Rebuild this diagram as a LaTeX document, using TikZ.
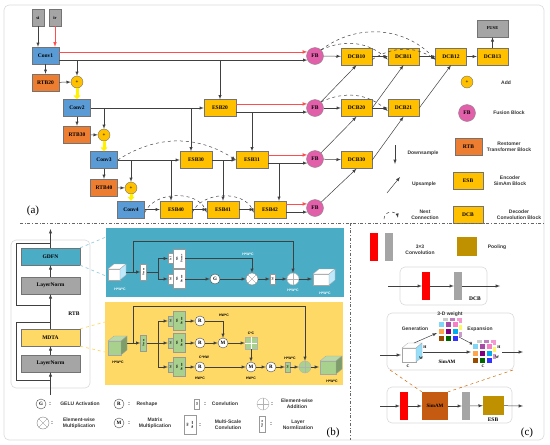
\documentclass[tikz,border=0pt]{standalone}
\usepackage{fontspec}
\setmainfont{Liberation Serif}
\setsansfont{Liberation Sans}
\usepackage{graphicx}
\usepackage{tikz}
\usetikzlibrary{arrows.meta,calc,positioning}
\usepackage{xcolor}
\definecolor{convblue}{HTML}{5B9BD5}
\definecolor{rtborange}{HTML}{ED7D31}
\definecolor{esbgold}{HTML}{FFC000}
\definecolor{fbpink}{HTML}{E25FAA}
\definecolor{boxgray}{HTML}{A5A5A5}
\definecolor{gdfnteal}{HTML}{4BACC6}
\definecolor{mdtayel}{HTML}{FFD966}
\definecolor{greenbox}{HTML}{A9D18E}
\definecolor{poolgold}{HTML}{BF9000}
\definecolor{simambrown}{HTML}{C55A11}

% cubo: x, y (in basso a sinistra), larghezza, altezza, fronte, lato
\newcommand{\cubo}[6]{%
  \filldraw[draw=black!35, line width=0.3pt, fill=#5] (#1,#2) rectangle ++(#3,-#4);
  \filldraw[draw=black!35, line width=0.3pt, fill=#5!80!white] (#1,#2-#4) -- ++(6,-5) -- ++(#3,0) -- ++(-6,5) -- cycle;
  \filldraw[draw=black!35, line width=0.3pt, fill=#6] (#1+#3,#2) -- ++(6,-5) -- ++(0,-#4) -- ++(-6,5) -- cycle;}

% pesi 3-D: griglia di cubetti colorati, (x,y) in alto a sinistra
\newcommand{\pesi}[2]{%
  \foreach \i/\j/\c in {0/0/gray!40,1/0/violet!50,2/0/magenta!40,0/1/cyan!40,1/1/gray!50,2/1/yellow!60,0/2/blue!40,1/2/cyan!60,2/2/violet!40}
    \filldraw[draw=white, line width=0.2pt, fill=\c] (#1+\i*7+4,#2+\j*7-4) rectangle ++(6,6);
  \foreach \i/\j/\c in {0/0/cyan!50,1/0/violet!70,2/0/magenta!50,0/1/orange!70,1/1/violet,2/1/cyan,0/2/orange!60!black,1/2/green!40!black,2/2/blue!80}
    \filldraw[draw=white, line width=0.2pt, fill=\c] (#1+\i*7,#2+\j*7) rectangle ++(6,6);}

\begin{document}
\begin{tikzpicture}[x=1pt, y=-1pt,
  blk/.style={draw=black!55, line width=0.4pt, inner sep=0pt, minimum height=17pt, font=\fontsize{5.5}{6}\selectfont\bfseries},
  conv/.style={blk, fill=convblue, minimum width=27pt},
  rtb/.style={blk, fill=rtborange, minimum width=27pt},
  esb/.style={blk, fill=esbgold, minimum width=32pt},
  dcb/.style={blk, fill=esbgold, minimum width=31pt},
  ingresso/.style={blk, fill=boxgray, minimum width=12pt, font=\fontsize{4.5}{5}\selectfont\bfseries},
  fb/.style={circle, draw=black!45, fill=fbpink, minimum size=17pt, inner sep=0pt, font=\fontsize{5.5}{6}\selectfont\bfseries},
  somma/.style={circle, draw=black!55, fill=esbgold, minimum size=12pt, inner sep=0pt, font=\fontsize{5}{5}\selectfont\bfseries},
  freccia/.style={-latex, draw=black!75, line width=0.5pt},
  rossa/.style={-latex, draw=red!70, line width=0.6pt},
  nest/.style={-latex, dashed, draw=black!75, line width=0.5pt},
  giallo/.style={-{Triangle[width=7pt,length=4pt]}, draw=yellow, line width=3pt},
  leg/.style={font=\sffamily\fontsize{5}{6}\selectfont\bfseries, text=black!80, align=center},
  rtbnodo/.style={blk, minimum width=59pt},
  pannello/.style={draw=black!15, line width=0.6pt, rounded corners=5pt},
  piccolo/.style={draw=black!40, line width=0.3pt, inner sep=0pt, font=\fontsize{2.5}{2.8}\selectfont\bfseries},
  uno/.style={piccolo, fill=#1, minimum width=5pt, minimum height=10pt},
  ms/.style={piccolo, fill=#1, minimum width=12pt, minimum height=19pt},
  norma/.style={piccolo, fill=#1, minimum width=6pt, minimum height=16pt},
  op/.style={circle, draw=black!70, fill=white, minimum size=10pt, inner sep=0pt, font=\fontsize{5}{5}\selectfont\bfseries},
  molt/.style={circle, draw=black!50, fill=white, minimum size=12pt, inner sep=0pt,
    path picture={\draw[black!50, line width=0.3pt] (path picture bounding box.north west) -- (path picture bounding box.south east) (path picture bounding box.south west) -- (path picture bounding box.north east);}},
  piu/.style={circle, draw=black!30, fill=#1, minimum size=12pt, inner sep=0pt,
    path picture={\draw[black!30, line width=0.3pt] (path picture bounding box.north) -- (path picture bounding box.south) (path picture bounding box.west) -- (path picture bounding box.east);}},
  dim/.style={font=\sffamily\fontsize{3.5}{4}\selectfont\bfseries},
  duepunti/.style={font=\sffamily\fontsize{6}{6}\selectfont\bfseries, text=black!80},
  barra/.style={minimum width=8pt, minimum height=28pt, inner sep=0pt, fill=#1}]

\useasboundingbox (0,0) rectangle (550,445);
\draw[pannello] (4,5) rectangle (544,440);

% Parte (a): rete
\node[ingresso] (si) at (38,17.5) {si};
\node[ingresso] (ir) at (55,17.5) {ir};
\node[conv] (conv1) at (45.5,55.5) {Conv1};
\node[rtb] (rtb20) at (45.5,82.5) {RTB20};
\node[somma] (add1) at (77,82) {+};
\node[conv] (conv2) at (77,108) {Conv2};
\node[rtb] (rtb30) at (77,134.5) {RTB30};
\node[somma] (add2) at (104,135) {+};
\node[conv] (conv3) at (104,160) {Conv3};
\node[rtb] (rtb40) at (104,187.5) {RTB40};
\node[somma] (add3) at (131,188) {+};
\node[conv] (conv4) at (131,209.5) {Conv4};
\node[esb] (esb20) at (220,108) {ESB20};
\node[esb] (esb30) at (196,160) {ESB30};
\node[esb] (esb31) at (252,160) {ESB31};
\node[esb] (esb40) at (176,209.5) {ESB40};
\node[esb] (esb41) at (223,209.5) {ESB41};
\node[esb] (esb42) at (270,209.5) {ESB42};
\node[fb] (fb1) at (315,56) {FB};
\node[fb] (fb2) at (315,108) {FB};
\node[fb] (fb3) at (315,159) {FB};
\node[fb] (fb4) at (315,208) {FB};
\node[dcb] (dcb10) at (356.5,56.5) {DCB10};
\node[dcb] (dcb11) at (403.5,56.5) {DCB11};
\node[dcb] (dcb12) at (451,56.5) {DCB12};
\node[dcb] (dcb13) at (492.5,56.5) {DCB13};
\node[ingresso, minimum width=31pt] (fuse) at (492.5,28.5) {FUSE};
\node[dcb] (dcb20) at (356.5,108) {DCB20};
\node[dcb] (dcb21) at (403.5,108) {DCB21};
\node[dcb] (dcb30) at (356.5,160) {DCB30};

\draw[freccia] (si) -- (si |- conv1.north);
\draw[rossa] (ir) -- (ir |- conv1.north);
\draw[freccia] (conv1) -- (rtb20);
\draw[freccia] (rtb20) -- (add1);
\draw[giallo] (add1) -- (conv2);
\draw[rossa] (conv1.east |- fb1.152) -- (fb1.152);
\draw[freccia] (conv1.east |- fb1.208) -- (fb1.208);
\draw[freccia] (add1 |- fb1.208) -- (add1);
\draw[freccia] (esb20 |- fb1.208) -- (esb20);
\draw[freccia] (conv2) -- (rtb30);
\draw[freccia] (rtb30) -- (add2);
\draw[giallo] (add2) -- (conv3);
\draw[freccia] (conv2) -- (esb20);
\draw[freccia] (add2 |- conv2) -- (add2);
\draw[freccia] ([xshift=-5pt]esb30.north |- conv2) -- ([xshift=-5pt]esb30.north);
\draw[rossa] (esb20.east |- fb2.152) -- (fb2.152);
\draw[freccia] (esb20.east |- fb2.208) -- (fb2.208);
\draw[freccia] (esb31 |- fb2.208) -- (esb31);
\draw[freccia] (conv3) -- (rtb40);
\draw[freccia] (rtb40) -- (add3);
\draw[giallo] (add3) -- (conv4);
\draw[freccia] (conv3) -- (esb30);
\draw[freccia] (add3 |- conv3) -- (add3);
\draw[freccia] ([xshift=-5pt]esb40.north |- conv3) -- ([xshift=-5pt]esb40.north);
\draw[freccia] (esb30) -- (esb31);
\draw[freccia] (esb41 |- esb30) -- (esb41);
\draw[rossa] (esb31.east |- fb3.152) -- (fb3.152);
\draw[freccia] (esb31.east |- fb3.208) -- (fb3.208);
\draw[freccia] ([xshift=9pt]esb42.north |- fb3.208) -- ([xshift=9pt]esb42.north);
\draw[freccia] (conv4) -- (esb40);
\draw[freccia] (esb40) -- (esb41);
\draw[freccia] (esb41) -- (esb42);
\draw[rossa] (esb42.east |- fb4.152) -- (fb4.152);
\draw[freccia] (esb42.east |- fb4.208) -- (fb4.208);
\draw[nest] (conv3.east) to[bend left=33] (esb31.west);
\draw[nest] ([yshift=-3pt]conv4.east) to[bend left=65] ([yshift=-3pt]esb41.west);
\draw[nest] ([yshift=-3pt]esb40.east) to[bend left=65] ([yshift=-3pt]esb42.west);

% decoder
\draw[freccia] (fb1) -- (dcb10);
\draw[freccia] (dcb10) -- (dcb11);
\draw[freccia] (dcb11) -- (dcb12);
\draw[freccia] (dcb12) -- (dcb13);
\draw[freccia] (dcb13) -- (fuse);
\draw[freccia] (fb2) -- (dcb20);
\draw[freccia] (dcb20) -- (dcb21);
\draw[freccia] (fb3) -- (dcb30);
\draw[freccia] (fb2) -- (dcb10.south);
\draw[freccia] (dcb20.east) -- (dcb11.south);
\draw[freccia] (dcb21.east) -- (dcb12.south);
\draw[freccia] (fb3) -- (dcb20.south);
\draw[freccia] (dcb30.east) -- (dcb21.south);
\draw[freccia] (fb4) -- (dcb30.south);
\draw[nest] (fb1.north east) to[bend left=33] ([yshift=-3pt]dcb11.west);
\draw[nest] (fb1.north east) to[bend left=42] ([yshift=-3pt]dcb12.west);
\draw[nest] ([yshift=-3pt]dcb10.east) to[bend left=33] ([yshift=-3pt]dcb12.west);
\draw[nest] (fb2.north east) to[bend left=33] ([yshift=-3pt]dcb21.west);

% legenda (a)
\node[somma] (legadd) at (467,82) {+};
\node[leg] at (506,83) {Add};
\node[fb] (legfb) at (467,113) {FB};
\node[leg] at (509,113) {Fusion Block};
\node[rtb] (legrtb) at (468.5,147) {RTB};
\node[leg] at (509,147) {Restomer\\Transformer Block};
\node[esb, minimum width=30pt] (legesb) at (468,181) {ESB};
\node[leg] at (510,181) {Encoder\\SimAm Block};
\node[dcb, minimum width=30pt] (legdcb) at (468,214.5) {DCB};
\node[leg] at (519,215) {Decoder\\Convolution Block};
\coordinate (ds1) at (395,145);
\coordinate (ds2) at (395,164);
\draw[freccia] (ds1) -- (ds2);
\node[leg] at (423,153) {Downsample};
\coordinate (us1) at (387,193);
\coordinate (us2) at (400,177);
\draw[freccia] (us1) -- (us2);
\node[leg] at (424,184) {Upsample};
\draw[nest] (384,219) arc[start angle=180, end angle=350, radius=7];
\node[leg] at (425,215) {Nest\\Connection};
\node[font=\fontsize{11}{11}\selectfont] at (33,211) {(a)};

% separatori
\draw[dash dot, black!60, line width=0.5pt] (20,223) -- (544,223);
\draw[dash dot, black!60, line width=0.5pt] (350,223) -- (350,440);

% Parte (b): RTB
\draw[pannello] (11,240) rectangle (90,388);
\node[rtbnodo, fill=gdfnteal] (gdfn) at (50.5,256.5) {GDFN};
\node[rtbnodo, fill=boxgray] (ln1) at (50.5,285.5) {LayerNorm};
\node[rtbnodo, fill=mdtayel] (mdta) at (50.5,337.5) {MDTA};
\node[rtbnodo, fill=boxgray] (ln2) at (50.5,363.5) {LayerNorm};
\coordinate (rin) at (50.5,395);
\coordinate (rout) at (50.5,229);
\draw[freccia] (rin) -- (ln2);
\draw[freccia] (ln2) -- (mdta);
\draw[freccia] (mdta) -- (ln1);
\draw[freccia] (ln1) -- (gdfn);
\draw[freccia] (gdfn) -- (rout);
\draw[black!75, line width=0.5pt] (50.5,380) -| (16,322) -- (50.5,322);
\draw[black!75, line width=0.5pt] (50.5,305) -| (16,243) -- (50.5,243);
\node[font=\fontsize{5.5}{6}\selectfont\bfseries] at (74,314) {RTB};
\draw[dashed, gdfnteal!60, line width=0.7pt] (gdfn.north east) -- (106,237);
\draw[dashed, gdfnteal!60, line width=0.7pt] (gdfn.south east) -- (106,276);
\draw[dashed, mdtayel, line width=0.7pt] (mdta.north east) -- (105,322);
\draw[dashed, mdtayel, line width=0.7pt] (mdta.south east) -- (105,352);

% GDFN
\fill[gdfnteal] (106,228) rectangle (344,297);
\cubo{108}{280}{12}{11}{white}{cyan!25}
\coordinate (tin) at (126,272);
\node[norma=white] (tnorm) at (143.5,272) {\rotatebox{90}{Norm}};
\coordinate (tsplit) at (158,272);
\node[uno=white] (t1a) at (170.5,258.5) {\rotatebox{90}{1x1}};
\node[ms=white, anchor=west] (tmsa) at (t1a.east) {\rotatebox{90}{\shortstack{MS\\Deconv}}};
\node[uno=white] (t1b) at (170.5,279) {\rotatebox{90}{1x1}};
\node[ms=white, anchor=west] (tmsb) at (t1b.east) {\rotatebox{90}{\shortstack{MS\\Deconv}}};
\node[op] (tg) at (215,279) {G};
\node[molt] (tmul) at (252,279) {};
\node[uno=white] (t1c) at (272.5,279) {\rotatebox{90}{1x1}};
\node[piu=white] (tadd) at (293,279) {};
\cubo{313}{285}{16}{11}{white}{cyan!25}
\coordinate (tout) at (312,279);
\draw[freccia] (tin) -- (tnorm);
\draw[black!75, line width=0.5pt] (tnorm) -- (tsplit);
\draw[freccia] (tsplit) |- (t1a);
\draw[freccia] (tsplit) |- (t1b);
\draw[freccia] (tmsa) -| (tmul);
\draw[freccia] (tmsb) -- (tg);
\draw[freccia] (tg) -- (tmul);
\draw[freccia] (tmul) -- (t1c);
\draw[freccia] (t1c) -- (tadd);
\draw[freccia] (tadd) -- (tout);
\coordinate (tskip) at (133,272);
\coordinate (ttop) at (293,241);
\draw[freccia] (tskip) |- (ttop) -- (tadd);
\node[dim, text=white] at (120,289) {H*W*C};
\node[dim, text=white] at (248,254) {H*W*C};
\node[dim, text=white] at (293,290) {H*W*C};
\node[dim, text=white] at (325,293) {H*W*C};

% MDTA
\fill[mdtayel] (105,302) rectangle (343,385);
\cubo{108}{355}{13}{14}{greenbox}{greenbox!75!black}
\coordinate (yin) at (127,343);
\node[norma=greenbox] (ynorm) at (143.5,343) {\rotatebox{90}{Norm}};
\coordinate (ysplit) at (158,343);
\node[uno=greenbox] (y1a) at (170.5,321) {\rotatebox{90}{1x1}};
\node[ms=greenbox, anchor=west] (ymsa) at (y1a.east) {\rotatebox{90}{\shortstack{MS\\Deconv}}};
\node[uno=greenbox] (y1b) at (170.5,343) {\rotatebox{90}{1x1}};
\node[ms=greenbox, anchor=west] (ymsb) at (y1b.east) {\rotatebox{90}{\shortstack{MS\\Deconv}}};
\node[uno=greenbox] (y1c) at (170.5,367) {\rotatebox{90}{1x1}};
\node[ms=greenbox, anchor=west] (ymsc) at (y1c.east) {\rotatebox{90}{\shortstack{MS\\Deconv}}};
\node[op] (yr1) at (200,321) {R};
\node[op] (yr2) at (200,343) {R};
\node[op] (yr3) at (200,367) {R};
\node[op] (ym1) at (223,343) {M};
\node[draw=black!30, fill=greenbox, minimum size=12pt, inner sep=0pt] (ygrid) at (251,343) {};
\draw[white, line width=0.4pt] (ygrid.north) -- (ygrid.south) (ygrid.west) -- (ygrid.east);
\node[op] (ym2) at (251,367) {M};
\node[op] (yr4) at (271,367) {R};
\node[uno=greenbox] (y1d) at (287.5,367) {\rotatebox{90}{1x1}};
\node[piu=greenbox] (yadd) at (305,367) {};
\cubo{320}{374}{16}{13}{greenbox}{greenbox!75!black}
\coordinate (yout) at (319,367);
\draw[freccia] (yin) -- (ynorm);
\draw[black!75, line width=0.5pt] (ynorm) -- (ysplit);
\draw[freccia] (ysplit) |- (y1a);
\draw[freccia] (ysplit) -- (y1b);
\draw[freccia] (ysplit) |- (y1c);
\draw[freccia] (ymsa) -- (yr1);
\draw[freccia] (ymsb) -- (yr2);
\draw[freccia] (ymsc) -- (yr3);
\draw[freccia] (yr1) -| (ym1);
\draw[freccia] (yr2) -- (ym1);
\draw[freccia] (ym1) -- (ygrid);
\draw[freccia] (ygrid) -- (ym2);
\draw[freccia] (yr3) -- (ym2);
\draw[freccia] (ym2) -- (yr4);
\draw[freccia] (yr4) -- (y1d);
\draw[freccia] (y1d) -- (yadd);
\draw[freccia] (yadd) -- (yout);
\coordinate (yskip) at (133,343);
\coordinate (ytop) at (305,306);
\draw[freccia] (yskip) |- (ytop) -- (yadd);
\node[dim] at (118,362) {H*W*C};
\node[dim] at (224,315) {HW*C};
\node[dim] at (251,333) {C*C};
\node[dim] at (204,357) {C*HW};
\node[dim] at (200,378) {HW*C};
\node[dim] at (251,378) {HW*C};
\node[dim] at (290,358) {H*W*C};
\node[dim] at (332,381) {H*W*C};

% legenda (b)
\node[op] (lg) at (41,404) {G};
\node[duepunti] at (50,404) {:};
\node[leg] at (80,404) {GELU Activation};
\node[molt] (lmul) at (43,423) {};
\node[duepunti] at (52,423) {:};
\node[leg] at (79,423) {Element-wise\\Multiplication};
\node[op] (lr) at (119,404) {R};
\node[duepunti] at (129,404) {:};
\node[leg] at (147,404) {Reshape};
\node[op] (lm) at (119,423) {M};
\node[duepunti] at (129,423) {:};
\node[leg] at (155,423) {Matrix\\Multiplication};
\node[uno=white] (l1) at (197,404) {\rotatebox{90}{1x1}};
\node[duepunti] at (205,404) {:};
\node[leg] at (225,404) {Convlution};
\node[ms=white] (lms) at (190,425) {\rotatebox{90}{\shortstack{MS\\Deconv}}};
\node[duepunti] at (200,425) {:};
\node[leg] at (228,425) {Multi-Scale\\Convlution};
\node[piu=white] (lsum) at (263,404) {};
\node[duepunti] at (272,404) {:};
\node[leg] at (297,404) {Element-wise\\Addition};
\node[norma=white] (lnorm) at (262,424) {\rotatebox{90}{Norm}};
\node[duepunti] at (271,424) {:};
\node[leg] at (298,425) {Layer\\Normlization};
\node[font=\fontsize{11}{11}\selectfont] at (333,433) {(b)};

% Parte (c)
\node[barra=red] (legred) at (374,247) {};
\node[barra=boxgray] (leggray) at (389,247) {};
\node[leg] at (420,250) {3×3\\Convolution};
\node[fill=poolgold, minimum width=20pt, minimum height=19pt, inner sep=0pt] (legpool) at (467,246.5) {};
\node[leg] at (497,247) {Pooling};

% DCB
\draw[pannello] (400,267) rectangle (487,305);
\coordinate (dcbin) at (388,286);
\node[barra=red] (dred) at (426,286) {};
\node[barra=boxgray] (dgray) at (458,286) {};
\coordinate (dcbout) at (500,286);
\draw[freccia] (dcbin) -- (dred);
\draw[freccia] (dred) -- (dgray);
\draw[freccia] (dgray) -- (dcbout);
\node[font=\fontsize{5.5}{6}\selectfont\bfseries] at (475,299) {DCB};

% SimAM
\draw[pannello] (387,313) rectangle (514,370);
\cubo{402}{362}{14}{14}{white}{cyan!40}
\node[font=\fontsize{4}{4}\selectfont\bfseries] at (425,347) {H};
\node[font=\fontsize{4}{4}\selectfont\bfseries] at (421,358) {W};
\node[font=\fontsize{4}{4}\selectfont\bfseries] at (408,366) {C};
\coordinate (sin) at (380,355);
\coordinate (scubo) at (401,355);
\draw[freccia] (sin) -- (scubo);
\pesi{438}{321}
\node[leg] at (450,314) {3-D weight};
\node[leg] at (415,329) {Generation};
\node[leg] at (480,329) {Expansion};
\coordinate (gen0) at (414,343);
\coordinate (gen1) at (437,333);
\draw[freccia] (gen0) -- (gen1);
\coordinate (exp0) at (459,337);
\coordinate (exp1) at (474,345);
\draw[freccia] (exp0) -- (exp1);
\pesi{472}{343}
\node[font=\fontsize{4}{4}\selectfont\bfseries] at (499,347) {H};
\node[font=\fontsize{4}{4}\selectfont\bfseries] at (497,357) {W};
\node[font=\fontsize{4}{4}\selectfont\bfseries] at (483,366) {C};
\coordinate (sa) at (423,352);
\coordinate (sb) at (471,352);
\draw[freccia] (sa) -- (sb);
\node[font=\fontsize{5}{5}\selectfont\bfseries] at (447,362) {SimAM};
\coordinate (sc) at (502,352);
\coordinate (sd) at (523,352);
\draw[freccia] (sc) -- (sd);

% ESB
\draw[pannello] (387,387) rectangle (512,423);
\coordinate (esbin) at (380,406);
\node[barra=red] (ered) at (404,406) {};
\node[barra=simambrown, minimum width=26pt, font=\fontsize{5}{5}\selectfont\bfseries] (esam) at (435,406) {SimAM};
\node[barra=boxgray] (egray) at (466,406) {};
\node[fill=poolgold, minimum width=21pt, minimum height=19pt, inner sep=0pt] (epool) at (493.5,405.5) {};
\coordinate (esbout) at (523,406);
\draw[freccia] (esbin) -- (ered);
\draw[freccia] (ered) -- (esam);
\draw[freccia] (esam) -- (egray);
\draw[freccia] (egray) -- (epool);
\draw[freccia] (epool) -- (esbout);
\node[font=\fontsize{5.5}{6}\selectfont\bfseries] at (493,420) {ESB};
\draw[dashed, orange!80!black, line width=0.5pt] (390,370) -- (esam.north west);
\draw[dashed, orange!80!black, line width=0.5pt] (513,370) -- (esam.north east);
\node[font=\fontsize{11}{11}\selectfont] at (527,433) {(c)};

\end{tikzpicture}
\end{document}
